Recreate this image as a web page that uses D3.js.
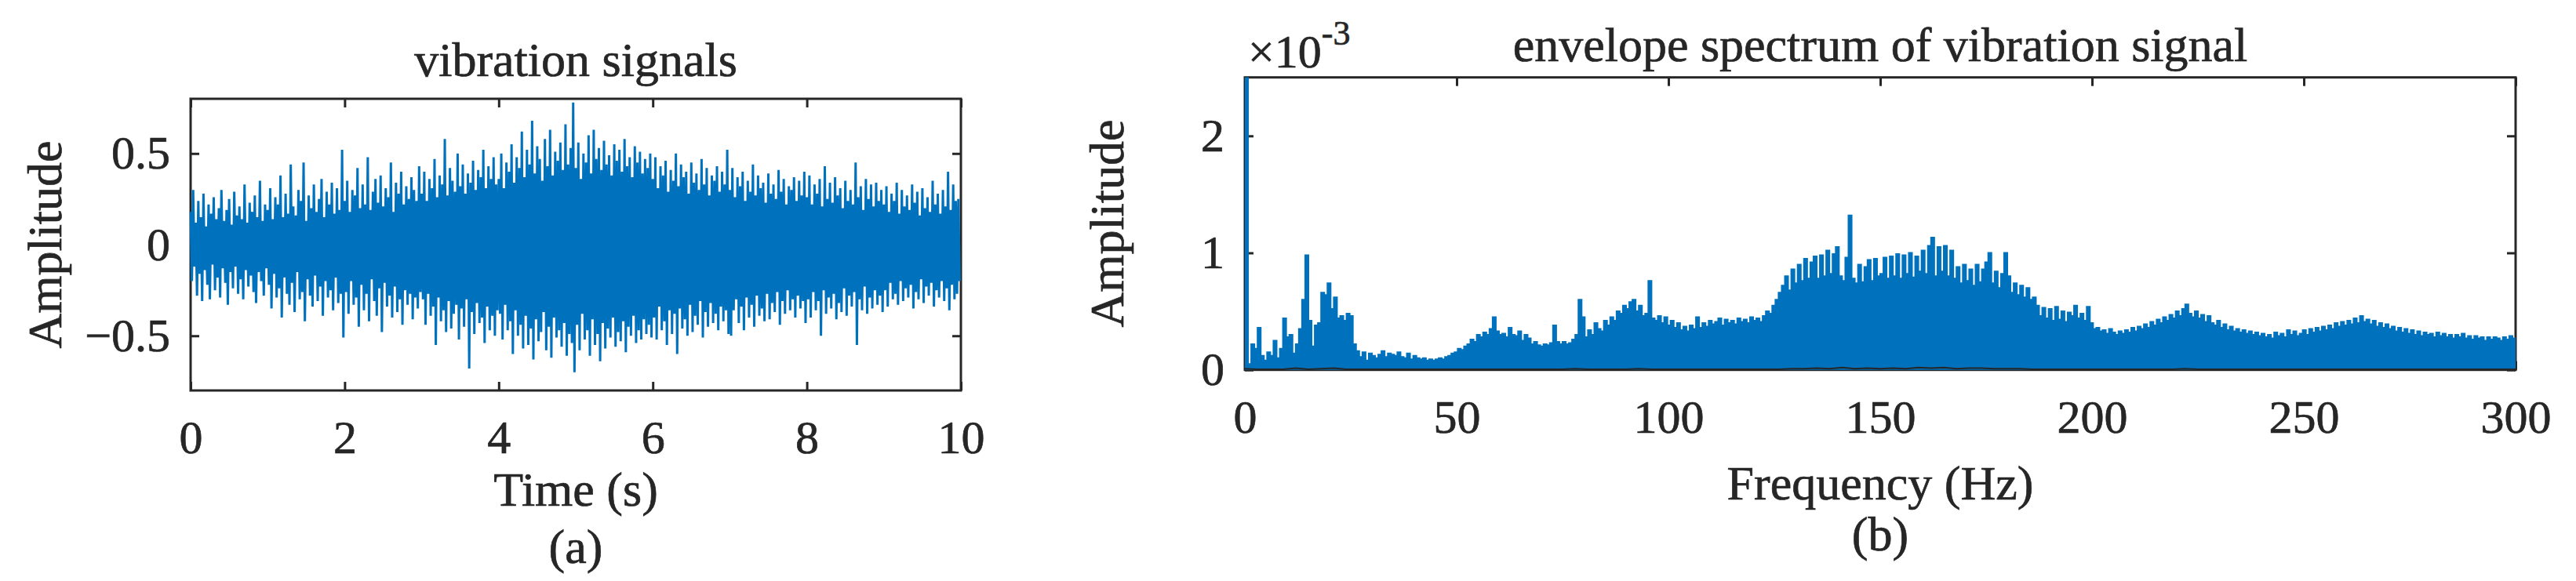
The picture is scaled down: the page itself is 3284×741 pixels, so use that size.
<!DOCTYPE html>
<html>
<head>
<meta charset="utf-8">
<script src="https://cdn.jsdelivr.net/npm/d3@7"></script>
<style>
  body { margin: 0; background: #fff; }
  svg { display: block; font-family: "Liberation Serif", "Times New Roman", Times, serif; }
  svg text { stroke: #262626; stroke-width: 0.7px; }
</style>
</head>
<body>
<div id="figure"></div>
<script>
// (a) vibration signal, 0-10 s, 30 samples per second
// each sample gives the upper and the lower swing of the trace
var timeTicks = [0, 2, 4, 6, 8, 10];
var ampTicks = [-0.5, 0, 0.5];
var sigHi = [
  0.18,0.30,0.12,0.24,0.15,0.28,0.10,0.22,0.17,0.26,0.14,0.20,0.30,0.13,0.19,0.25,0.11,0.29,0.16,0.21,0.14,0.33,0.12,0.23,0.18,0.27,0.15,0.35,0.13,0.22,
  0.19,0.31,0.14,0.26,0.22,0.38,0.15,0.28,0.17,0.44,0.21,0.16,0.30,0.24,0.45,0.13,0.27,0.20,0.33,0.18,0.25,0.36,0.15,0.29,0.22,0.34,0.17,0.31,0.19,0.52,
  0.24,0.35,0.18,0.30,0.27,0.42,0.20,0.33,0.22,0.48,0.19,0.29,0.36,0.23,0.38,0.21,0.31,0.26,0.45,0.18,0.34,0.28,0.40,0.22,0.32,0.25,0.37,0.30,0.24,0.43,
  0.28,0.40,0.24,0.36,0.31,0.47,0.26,0.38,0.33,0.58,0.27,0.42,0.35,0.29,0.50,0.32,0.44,0.28,0.39,0.34,0.46,0.30,0.41,0.37,0.52,0.31,0.43,0.36,0.48,0.33,
  0.36,0.50,0.31,0.45,0.40,0.55,0.34,0.48,0.42,0.62,0.37,0.52,0.44,0.68,0.39,0.54,0.47,0.35,0.58,0.43,0.63,0.38,0.51,0.46,0.56,0.41,0.66,0.44,0.53,0.78,
  0.42,0.56,0.36,0.50,0.45,0.60,0.39,0.63,0.47,0.53,0.41,0.57,0.44,0.49,0.38,0.55,0.46,0.52,0.40,0.58,0.43,0.48,0.37,0.54,0.45,0.51,0.39,0.47,0.42,0.50,
  0.36,0.48,0.31,0.43,0.38,0.46,0.29,0.41,0.35,0.50,0.32,0.44,0.37,0.40,0.28,0.45,0.34,0.39,0.30,0.47,0.33,0.42,0.27,0.38,0.35,0.43,0.29,0.40,0.33,0.52,
  0.30,0.42,0.26,0.37,0.32,0.40,0.24,0.35,0.29,0.44,0.27,0.38,0.31,0.34,0.23,0.39,0.28,0.33,0.25,0.41,0.29,0.36,0.22,0.32,0.30,0.37,0.24,0.35,0.27,0.40,
  0.26,0.38,0.22,0.33,0.28,0.36,0.21,0.43,0.25,0.34,0.23,0.37,0.27,0.31,0.20,0.35,0.24,0.30,0.22,0.45,0.26,0.32,0.19,0.36,0.25,0.33,0.21,0.34,0.24,0.30,
  0.22,0.32,0.18,0.28,0.24,0.34,0.17,0.30,0.21,0.27,0.19,0.33,0.23,0.29,0.16,0.31,0.20,0.26,0.18,0.35,0.22,0.28,0.17,0.30,0.21,0.40,0.19,0.33,0.24,0.25
];
var sigLo = [
  -0.20,-0.12,-0.28,-0.16,-0.31,-0.14,-0.22,-0.30,-0.11,-0.25,-0.18,-0.29,-0.13,-0.21,-0.33,-0.15,-0.24,-0.12,-0.27,-0.19,-0.30,-0.14,-0.23,-0.17,-0.26,-0.32,-0.15,-0.20,-0.28,-0.13,
  -0.22,-0.35,-0.16,-0.29,-0.24,-0.40,-0.18,-0.27,-0.33,-0.21,-0.37,-0.15,-0.30,-0.26,-0.42,-0.19,-0.28,-0.34,-0.17,-0.31,-0.23,-0.39,-0.20,-0.29,-0.25,-0.36,-0.18,-0.32,-0.27,-0.51,
  -0.26,-0.38,-0.20,-0.33,-0.29,-0.45,-0.22,-0.36,-0.27,-0.42,-0.19,-0.31,-0.39,-0.24,-0.48,-0.21,-0.34,-0.28,-0.40,-0.23,-0.37,-0.30,-0.44,-0.25,-0.33,-0.27,-0.41,-0.29,-0.35,-0.26,
  -0.30,-0.44,-0.27,-0.39,-0.34,-0.55,-0.29,-0.42,-0.36,-0.48,-0.31,-0.46,-0.38,-0.33,-0.52,-0.35,-0.45,-0.30,-0.68,-0.37,-0.49,-0.32,-0.43,-0.40,-0.54,-0.34,-0.47,-0.39,-0.50,-0.36,
  -0.38,-0.52,-0.33,-0.47,-0.42,-0.60,-0.36,-0.50,-0.44,-0.57,-0.39,-0.55,-0.46,-0.63,-0.41,-0.53,-0.48,-0.37,-0.58,-0.45,-0.62,-0.40,-0.51,-0.47,-0.56,-0.43,-0.61,-0.49,-0.54,-0.70,
  -0.44,-0.58,-0.38,-0.52,-0.47,-0.61,-0.41,-0.55,-0.49,-0.64,-0.43,-0.57,-0.46,-0.51,-0.40,-0.56,-0.48,-0.53,-0.42,-0.59,-0.45,-0.50,-0.39,-0.54,-0.47,-0.52,-0.41,-0.49,-0.44,-0.51,
  -0.40,-0.52,-0.34,-0.47,-0.42,-0.55,-0.36,-0.49,-0.38,-0.60,-0.35,-0.46,-0.41,-0.50,-0.33,-0.48,-0.39,-0.44,-0.31,-0.51,-0.37,-0.45,-0.32,-0.43,-0.38,-0.47,-0.34,-0.42,-0.36,-0.49,
  -0.50,-0.36,-0.30,-0.43,-0.34,-0.47,-0.29,-0.40,-0.33,-0.45,-0.28,-0.39,-0.35,-0.42,-0.27,-0.41,-0.32,-0.37,-0.26,-0.44,-0.31,-0.38,-0.25,-0.36,-0.30,-0.40,-0.28,-0.35,-0.31,-0.43,
  -0.30,-0.40,-0.26,-0.36,-0.31,-0.50,-0.25,-0.38,-0.29,-0.35,-0.27,-0.41,-0.32,-0.37,-0.24,-0.39,-0.28,-0.34,-0.26,-0.55,-0.30,-0.36,-0.23,-0.38,-0.29,-0.35,-0.25,-0.33,-0.28,-0.37,
  -0.25,-0.34,-0.21,-0.30,-0.27,-0.33,-0.20,-0.31,-0.24,-0.29,-0.22,-0.35,-0.26,-0.30,-0.19,-0.32,-0.23,-0.28,-0.21,-0.34,-0.25,-0.29,-0.20,-0.31,-0.24,-0.36,-0.22,-0.30,-0.27,-0.20
];

// (b) envelope spectrum, 0-300 Hz, one value per 0.75 Hz bin, in units of 1e-3
var freqTicks = [0, 50, 100, 150, 200, 250, 300];
var specTicks = [0, 1, 2];
var specAmp = [
  3.20,0.05,0.22,0.18,0.36,0.12,0.08,0.15,0.12,0.25,0.10,0.18,0.44,0.28,0.30,0.14,0.22,0.35,0.60,0.98,
  0.42,0.20,0.38,0.40,0.66,0.64,0.74,0.52,0.62,0.44,0.46,0.42,0.48,0.46,0.22,0.16,0.11,0.15,0.08,0.14,
  0.12,0.10,0.13,0.16,0.11,0.14,0.13,0.12,0.15,0.11,0.10,0.14,0.09,0.12,0.10,0.09,0.10,0.08,0.09,0.08,
  0.09,0.10,0.09,0.11,0.12,0.14,0.15,0.18,0.17,0.20,0.22,0.26,0.24,0.30,0.28,0.32,0.30,0.35,0.45,0.33,
  0.30,0.31,0.28,0.36,0.30,0.29,0.33,0.25,0.30,0.27,0.22,0.24,0.21,0.20,0.22,0.21,0.23,0.38,0.24,0.22,
  0.24,0.22,0.23,0.26,0.30,0.60,0.45,0.28,0.34,0.30,0.40,0.35,0.33,0.42,0.38,0.45,0.42,0.50,0.48,0.55,
  0.52,0.58,0.60,0.50,0.55,0.46,0.48,0.76,0.44,0.42,0.46,0.40,0.45,0.38,0.42,0.36,0.40,0.34,0.37,0.33,
  0.38,0.35,0.45,0.36,0.40,0.37,0.42,0.39,0.41,0.44,0.38,0.43,0.40,0.42,0.39,0.44,0.41,0.43,0.40,0.45,
  0.42,0.44,0.41,0.46,0.50,0.48,0.55,0.60,0.66,0.72,0.80,0.68,0.86,0.74,0.90,0.76,0.95,0.78,0.92,0.97,
  0.78,0.98,0.80,1.02,0.82,0.99,1.05,0.80,0.76,0.96,1.32,0.78,0.74,0.90,0.75,0.88,0.94,0.76,0.95,0.80,
  0.82,0.96,0.78,0.97,0.80,0.99,0.78,0.98,0.82,1.00,0.79,0.97,0.84,1.02,0.82,1.06,1.13,0.80,1.05,0.84,
  1.06,0.80,1.02,0.78,0.88,0.74,0.90,0.76,0.86,0.72,0.90,0.75,0.86,0.92,1.00,0.74,0.84,0.70,0.82,1.00,
  0.80,0.66,0.74,0.64,0.72,0.62,0.70,0.60,0.62,0.55,0.46,0.53,0.44,0.52,0.42,0.54,0.43,0.50,0.41,0.49,
  0.46,0.55,0.44,0.48,0.42,0.54,0.40,0.35,0.36,0.33,0.34,0.31,0.35,0.32,0.30,0.33,0.31,0.34,0.32,0.36,
  0.33,0.37,0.35,0.39,0.36,0.41,0.38,0.43,0.40,0.45,0.42,0.47,0.44,0.50,0.46,0.52,0.56,0.48,0.45,0.50,
  0.44,0.47,0.41,0.46,0.40,0.38,0.42,0.36,0.39,0.34,0.37,0.33,0.35,0.32,0.34,0.31,0.33,0.30,0.32,0.29,
  0.31,0.28,0.30,0.27,0.32,0.29,0.31,0.28,0.34,0.30,0.33,0.29,0.31,0.34,0.30,0.35,0.32,0.36,0.33,0.37,
  0.34,0.38,0.35,0.40,0.37,0.41,0.38,0.42,0.39,0.44,0.40,0.46,0.41,0.43,0.39,0.42,0.37,0.40,0.36,0.39,
  0.35,0.37,0.33,0.36,0.32,0.35,0.31,0.34,0.30,0.33,0.29,0.32,0.30,0.31,0.28,0.32,0.29,0.31,0.28,0.30,
  0.27,0.30,0.28,0.31,0.27,0.29,0.26,0.29,0.27,0.28,0.25,0.28,0.26,0.28,0.27,0.25,0.28,0.26,0.29,0.27
];
// dark trace lying on the zero line, every 3 Hz, units of 1e-3
var specBase = [
  0.010,0.005,0.005,0.005,0.015,0.005,0.010,0.015,0.005,0.005,
  0.005,0.005,0.005,0.005,0.005,0.005,0.005,0.005,0.005,0.005,
  0.005,0.005,0.005,0.005,0.005,0.005,0.010,0.005,0.005,0.005,
  0.005,0.010,0.005,0.005,0.005,0.005,0.005,0.005,0.005,0.005,
  0.005,0.005,0.005,0.010,0.010,0.015,0.010,0.020,0.010,0.015,
  0.010,0.015,0.010,0.020,0.015,0.020,0.010,0.015,0.015,0.010,
  0.010,0.010,0.005,0.005,0.005,0.005,0.005,0.005,0.005,0.005,
  0.005,0.005,0.005,0.005,0.010,0.005,0.005,0.005,0.005,0.005,
  0.005,0.005,0.005,0.005,0.005,0.005,0.005,0.005,0.005,0.005,
  0.005,0.005,0.005,0.005,0.005,0.005,0.005,0.005,0.005,0.005,0.005
];

var svgWidth = 3284, svgHeight = 741;
var blue = "#0072bd", ink = "#262626";
var tickFont = 60, labelFont = 62;

var svg = d3.select("#figure").append("svg")
    .attr("width", svgWidth)
    .attr("height", svgHeight);

// draw the box, ticks and tick labels of one MATLAB style axes
function drawAxes(box, xs, ys, xTicks, yTicks, yFmt) {
  var g = svg.append("g");
  var w = box.x1 - box.x0, h = box.y1 - box.y0;

  var axes = [
    {ax: d3.axisBottom(xs).tickValues(xTicks).tickSize(-11), t: "translate(0," + box.y1 + ")"},
    {ax: d3.axisTop(xs).tickValues(xTicks).tickSize(-11).tickFormat(""), t: "translate(0," + box.y0 + ")"},
    {ax: d3.axisLeft(ys).tickValues(yTicks).tickSize(-11).tickFormat(yFmt).tickPadding(26), t: "translate(" + box.x0 + ",0)"},
    {ax: d3.axisRight(ys).tickValues(yTicks).tickSize(-11).tickFormat(""), t: "translate(" + box.x1 + ",0)"}
  ];
  axes.forEach(function(a) {
    var ag = g.append("g").attr("transform", a.t).call(a.ax);
    ag.attr("font-family", null);
    ag.select(".domain").remove();
    ag.selectAll("line").attr("stroke", ink).attr("stroke-width", 3);
    ag.selectAll("text")
      .attr("fill", ink)
      .style("font-size", tickFont + "px");
  });
  // x tick labels sit 80px under the box
  g.select("g").selectAll("text").attr("y", 80).attr("dy", null);

  g.append("rect")
    .attr("x", box.x0).attr("y", box.y0)
    .attr("width", w).attr("height", h)
    .attr("fill", "none")
    .attr("stroke", ink)
    .attr("stroke-width", 3);
  return g;
}

function addText(x, y, txt, size, rot) {
  var t = svg.append("text")
    .attr("x", x).attr("y", y)
    .attr("text-anchor", "middle")
    .attr("fill", ink)
    .style("font-size", size + "px")
    .text(txt);
  if (rot) t.attr("transform", "rotate(-90," + x + "," + y + ")");
  return t;
}

// ---------- (a) vibration signals ----------
var boxA = {x0: 243, x1: 1225, y0: 126, y1: 498};
var xTime = d3.scaleLinear().domain([0, 10]).range([boxA.x0, boxA.x1]);
var yAmp = d3.scaleLinear().domain([-0.8, 0.8]).range([boxA.y1, boxA.y0]);

drawAxes(boxA, xTime, yAmp, timeTicks, ampTicks, function(d) {
  return d === 0 ? "0" : (d < 0 ? "\u2212" : "") + Math.abs(d).toFixed(1);
});

svg.append("clipPath").attr("id", "clipA")
  .append("rect")
    .attr("x", boxA.x0 - 1.5).attr("y", boxA.y0)
    .attr("width", boxA.x1 - boxA.x0 + 3).attr("height", boxA.y1 - boxA.y0);

var dt = 10 / sigHi.length;
var sigPts = [];
sigHi.forEach(function(v, i) {
  sigPts.push([i * dt, v]);
  sigPts.push([(i + 0.5) * dt, sigLo[i]]);
});

var sigLine = d3.line()
  .x(function(d) { return xTime(d[0]); })
  .y(function(d) { return yAmp(d[1]); });

svg.append("path")
  .datum(sigPts)
  .attr("clip-path", "url(#clipA)")
  .attr("fill", "none")
  .attr("stroke", blue)
  .attr("stroke-width", 3)
  .attr("d", sigLine);

addText(734, 97, "vibration signals", labelFont);
addText(734, 645, "Time (s)", labelFont);
addText(734, 718, "(a)", labelFont);
addText(78, 312, "Amplitude", labelFont, true);

// ---------- (b) envelope spectrum ----------
var boxB = {x0: 1587, x1: 3207, y0: 98.7, y1: 471.7};
var xFreq = d3.scaleLinear().domain([0, 300]).range([boxB.x0, boxB.x1]);
var ySpec = d3.scaleLinear().domain([0, 2.5]).range([boxB.y1, boxB.y0]);

drawAxes(boxB, xFreq, ySpec, freqTicks, specTicks, d3.format("d"));

svg.append("clipPath").attr("id", "clipB")
  .append("rect")
    .attr("x", boxB.x0 - 1.5).attr("y", boxB.y0)
    .attr("width", boxB.x1 - boxB.x0 + 3).attr("height", boxB.y1 - boxB.y0 + 1.5);

var binHz = 0.75;
var specPts = specAmp.map(function(v, i) { return [i * binHz, v]; });
specPts.push([300, specAmp[specAmp.length - 1]]);

var specArea = d3.area()
  .curve(d3.curveStepAfter)
  .x(function(d) { return xFreq(d[0]); })
  .y0(ySpec(0))
  .y1(function(d) { return ySpec(d[1]); });
var specLine = d3.line()
  .curve(d3.curveStepAfter)
  .x(function(d) { return xFreq(d[0]); })
  .y(function(d) { return ySpec(d[1]); });

var specG = svg.append("g").attr("clip-path", "url(#clipB)");
specG.append("path")
  .datum(specPts)
  .attr("fill", blue)
  .attr("d", specArea);
specG.append("path")
  .datum(specPts)
  .attr("fill", "none")
  .attr("stroke", blue)
  .attr("stroke-width", 2)
  .attr("d", specLine);

var baseLine = d3.line()
  .x(function(d, i) { return xFreq(i * 3); })
  .y(function(d) { return ySpec(d); });

specG.append("path")
  .datum(specBase)
  .attr("fill", "none")
  .attr("stroke", ink)
  .attr("stroke-width", 2)
  .attr("d", baseLine);

// exponent of the y axis
var expo = svg.append("text")
  .attr("x", 1591).attr("y", 86)
  .attr("fill", ink)
  .style("font-size", tickFont + "px");
expo.append("tspan").text("\u00d710");
expo.append("tspan").attr("dy", -29).style("font-size", "44px").text("-3");

addText(2397, 78, "envelope spectrum of vibration signal", labelFont);
addText(2397, 637, "Frequency (Hz)", labelFont);
addText(2397, 702, "(b)", labelFont);
addText(1432, 285, "Amplitude", labelFont, true);
</script>
</body>
</html>
